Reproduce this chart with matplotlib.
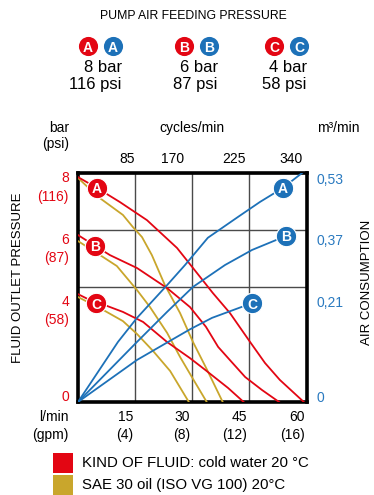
import numpy as np
import matplotlib
matplotlib.use('Agg')
import matplotlib.pyplot as plt

plt.rcParams['font.family'] = ['Liberation Sans', 'DejaVu Sans']

RED = '#e30613'
BLUE = '#1d71b8'
GOLD = '#c9a62c'

# flow axis (l/min) and its other scales
flow_ticks = [15, 30, 45, 60]
gpm_labels = ['(4)', '(8)', '(12)', '(16)']
cycle_labels = ['85', '170', '225', '340']

# outlet pressure axis (bar)
press_ticks = [8, 6, 4, 0]
psi_labels = ['(116)', '(87)', '(58)', '']

# air consumption axis (m3/min), tick i sits on pressure gridline i
air_ticks = [0.53, 0.37, 0.21, 0]
air_labels = ['0,53', '0,37', '0,21', '0']

curve_names = ['A', 'B', 'C']
feed_bar = ['8 bar', '6 bar', '4 bar']
feed_psi = ['116 psi', '87 psi', '58 psi']

# cold water 20 C, outlet pressure (bar) vs flow (l/min)
water_x = [
    [0, 5.0, 11.0, 18.1, 26.0, 30.2, 35.4, 39.9, 45.2, 49.1, 53.0, 59.3],
    [0, 4.5, 8.4, 15.5, 23.4, 29.4, 33.6, 36.8, 39.9, 43.9, 48.3, 52.8],
    [0, 4.7, 7.6, 11.8, 17.1, 23.4, 29.4, 33.4, 39.4, 43.5],
]
water_y = [
    [7.84, 7.46, 6.97, 6.34, 5.37, 4.67, 3.80, 3.10, 2.09, 1.36, 0.77, 0.0],
    [5.82, 5.44, 5.12, 4.67, 3.97, 3.31, 2.62, 1.92, 1.46, 0.87, 0.42, 0.0],
    [3.76, 3.45, 3.35, 3.14, 2.79, 2.09, 1.53, 1.12, 0.49, 0.0],
]

# SAE 30 oil 20 C
oil_x = [
    [0, 5.3, 11.8, 14.4, 16.8, 19.4, 22.8, 26.8, 30.2, 33.9, 38.0],
    [0, 5.8, 10.2, 15.5, 18.9, 23.4, 26.8, 29.9, 33.8],
    [0, 6.6, 11.8, 15.5, 19.7, 24.2, 29.1],
]
oil_y = [
    [7.81, 7.15, 6.52, 6.10, 5.75, 5.12, 4.08, 3.10, 2.09, 1.12, 0.0],
    [5.61, 5.12, 4.74, 3.90, 3.31, 2.41, 1.57, 0.87, 0.0],
    [3.66, 3.21, 2.82, 2.37, 1.78, 1.08, 0.0],
]

# air consumption (m3/min) vs flow (l/min)
air_x = [
    [0, 10.5, 15.5, 23.4, 28.1, 34.1, 42.0, 47.8, 53.8, 59.0],
    [0, 15.5, 23.4, 30.2, 38.6, 45.7, 54.6],
    [0, 15.5, 29.4, 35.2, 45.7],
]
air_y = [
    [0, 0.110, 0.154, 0.216, 0.272, 0.348, 0.406, 0.448, 0.487, 0.530],
    [0, 0.110, 0.165, 0.211, 0.272, 0.314, 0.353],
    [0, 0.077, 0.133, 0.154, 0.181],
]

# where the letter badges sit on the curves
water_badge_x = [5.0, 4.5, 4.7]
water_badge_y = [7.46, 5.44, 3.45]
air_badge_x = [53.8, 54.6, 45.7]
air_badge_y = [0.487, 0.353, 0.181]

fig = plt.figure(figsize=(3.74, 4.95), dpi=100)
ax = fig.add_axes([78 / 374, 93 / 495, 228.5 / 374, 229.5 / 495])
ax.set_xlim(0, 60)
ax.set_ylim(0, 8)
ax.set_xticks(flow_ticks)
ax.set_yticks(press_ticks)
ax.grid(True, color='#4a4a4a', lw=1.0)
ax.tick_params(length=0, labelbottom=False, labelleft=False)
for s in ax.spines.values():
    s.set_linewidth(2.6)
    s.set_color('black')

# second axis for air consumption, its ticks are not evenly spaced
grid_pos = [8, 6, 4, 0]
def fwd(v):
    return np.interp(v, air_ticks[::-1], grid_pos[::-1])
def inv(v):
    return np.interp(v, grid_pos[::-1], air_ticks[::-1])
ax2 = ax.twinx()
ax2.set_yscale('function', functions=(fwd, inv))
ax2.set_ylim(0, 0.53)
ax2.set_yticks([])
ax2.set_yticks([], minor=True)
for s in ax2.spines.values():
    s.set_visible(False)

for i in range(3):
    ax.plot(oil_x[i], oil_y[i], color=GOLD, lw=1.3, zorder=3)
for i in range(3):
    ax.plot(water_x[i], water_y[i], color=RED, lw=1.3, zorder=4)
for i in range(3):
    ax2.plot(air_x[i], air_y[i], color=BLUE, lw=1.3, zorder=3)

badge_font = dict(family='Liberation Sans', weight='bold', size=10, color='white',
                  ha='center', va='center_baseline', zorder=7)
ax.scatter(water_badge_x, water_badge_y, s=215, color=RED, edgecolor='white', lw=0.8, zorder=6, clip_on=False)
ax2.scatter(air_badge_x, air_badge_y, s=215, color=BLUE, edgecolor='white', lw=0.8, zorder=6, clip_on=False)
for i in range(3):
    ax.text(water_badge_x[i], water_badge_y[i], curve_names[i], **badge_font)
    ax2.text(air_badge_x[i], air_badge_y[i], curve_names[i], **badge_font)

# tick labels, drawn by hand so they can sit under the gridlines
tick_size = 10
label_shift = [6, 10, 15, -5]
for i in range(4):
    ax.annotate(str(press_ticks[i]), (0, press_ticks[i]), xycoords=('axes fraction', 'data'),
                xytext=(-9, -label_shift[i]), textcoords='offset pixels',
                ha='right', va='center', color=RED, size=tick_size)
    if psi_labels[i]:
        ax.annotate(psi_labels[i], (0, press_ticks[i]), xycoords=('axes fraction', 'data'),
                    xytext=(-9, -label_shift[i] - 18), textcoords='offset pixels',
                    ha='right', va='center', color=RED, size=tick_size)
    ax2.annotate(air_labels[i], (1, air_ticks[i]), xycoords=('axes fraction', 'data'),
                 xytext=(10, -label_shift[i] - 1), textcoords='offset pixels',
                 ha='left', va='center', color='#2a7ac0', size=tick_size)

top_shift = [-8, -20, -15, -15]
for i in range(4):
    ax.annotate(str(flow_ticks[i]), (flow_ticks[i], 0), xycoords=('data', 'axes fraction'),
                xytext=(-2, -15), textcoords='offset pixels', ha='right', va='center', size=tick_size)
    ax.annotate(gpm_labels[i], (flow_ticks[i], 0), xycoords=('data', 'axes fraction'),
                xytext=(-2, -33), textcoords='offset pixels', ha='right', va='center', size=tick_size)
    ax.annotate(cycle_labels[i], (flow_ticks[i], 1), xycoords=('data', 'axes fraction'),
                xytext=(top_shift[i], 13.5), textcoords='offset pixels', ha='center', va='center', size=tick_size)

# overlay in pixel coordinates for the header, titles and legend
ov = fig.add_axes([0, 0, 1, 1])
ov.set_xlim(0, 374)
ov.set_ylim(495, 0)
ov.axis('off')

ov.text(193, 16, 'PUMP AIR FEEDING PRESSURE', ha='center', va='center', size=8.8)
head_x = [88, 184, 274]
ov.scatter(head_x, [46] * 3, s=190, color=RED, lw=0)
ov.scatter([x + 25 for x in head_x], [46] * 3, s=190, color=BLUE, lw=0)
right_edge = [122, 218, 307]
for i in range(3):
    ov.text(head_x[i], 46, curve_names[i], **badge_font)
    ov.text(head_x[i] + 25, 46, curve_names[i], **badge_font)
    ov.text(right_edge[i], 67, feed_bar[i], ha='right', va='center', size=12)
    ov.text(right_edge[i] - 1, 85, feed_psi[i], ha='right', va='center', size=12)

ov.text(69, 128, 'bar', ha='right', va='center', size=tick_size)
ov.text(69, 144, '(psi)', ha='right', va='center', size=tick_size)
ov.text(192, 128, 'cycles/min', ha='center', va='center', size=tick_size)
ov.text(317, 128, 'm³/min', ha='left', va='center', size=tick_size)
ov.text(69, 417, 'l/min', ha='right', va='center', size=tick_size)
ov.text(69, 435, '(gpm)', ha='right', va='center', size=tick_size)
ov.text(18, 278, 'FLUID OUTLET PRESSURE', rotation=90, ha='center', va='center', size=9.5)
ov.text(367, 282, 'AIR CONSUMPTION', rotation=90, ha='center', va='center', size=9.5)

ov.scatter([63, 63], [463, 485], s=190, marker='s', color=[RED, GOLD], lw=0)
ov.text(82, 463, 'KIND OF FLUID: cold water 20 °C', ha='left', va='center', size=10.8)
ov.text(82, 485, 'SAE 30 oil (ISO VG 100) 20°C', ha='left', va='center', size=10.8)

fig.savefig('out.png', dpi=100)
